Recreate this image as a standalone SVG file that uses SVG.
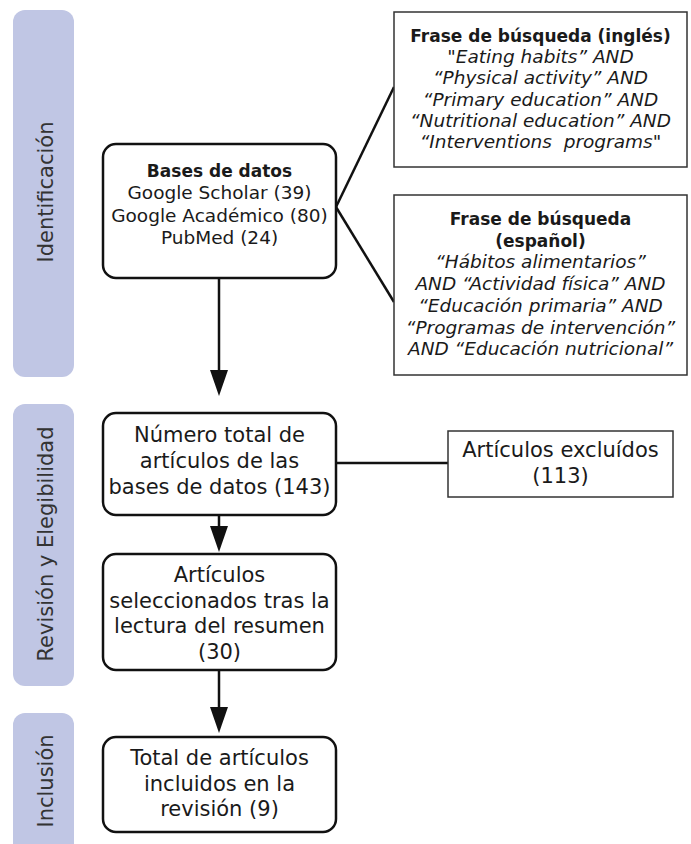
<svg xmlns="http://www.w3.org/2000/svg" width="691" height="844" viewBox="0 0 691 844">
<style>
text { font-family: "DejaVu Sans", "Liberation Sans", sans-serif; fill: #1a1a1a; text-anchor: middle; }
.phase { fill: #c0c6e4; }
.plabel { font-size: 21px; fill: #333; }
.rbox { fill: #fff; stroke: #111; stroke-width: 2.5; }
.sbox { fill: #fff; stroke: #333; stroke-width: 1.5; }
.b17 { font-size: 17px; font-weight: bold; }
.r185 { font-size: 18.5px; }
.i185 { font-size: 18.5px; font-style: italic; }
.r21 { font-size: 21px; }
.conn { stroke: #111; stroke-width: 2.5; fill: none; }
</style>
<defs>
<marker id="ah" markerUnits="userSpaceOnUse" markerWidth="26" markerHeight="18" refX="18" refY="9" orient="auto">
<path d="M0,0 L26,9 L0,18 Z" fill="#111"/>
</marker>
</defs>

<g id="phases">
<rect class="phase" x="13" y="10" width="61" height="367" rx="12"/>
<text class="plabel" transform="translate(53,192) rotate(-90)">Identificación</text>
<rect class="phase" x="13" y="404" width="61" height="282" rx="12"/>
<text class="plabel" transform="translate(53,544) rotate(-90)">Revisión y Elegibilidad</text>
<rect class="phase" x="13" y="713" width="61" height="150" rx="12"/>
<text class="plabel" transform="translate(53,781) rotate(-90)">Inclusión</text>
</g>

<g id="connectors">
<line class="conn" x1="336" y1="207" x2="394" y2="87"/>
<line class="conn" x1="336" y1="207" x2="394" y2="302"/>
<line class="conn" x1="336" y1="463" x2="448" y2="463"/>
<line class="conn" x1="219" y1="278" x2="219" y2="388" marker-end="url(#ah)"/>
<line class="conn" x1="219" y1="515" x2="219" y2="544" marker-end="url(#ah)"/>
<line class="conn" x1="219" y1="670" x2="219" y2="725" marker-end="url(#ah)"/>
</g>

<g id="bases">
<rect class="rbox" x="103" y="144" width="233" height="134" rx="13"/>
<text class="b17" x="219.5" y="177">Bases de datos</text>
<text class="r185" x="219.5" y="199">Google Scholar (39)</text>
<text class="r185" x="219.5" y="222">Google Académico (80)</text>
<text class="r185" x="219.5" y="244">PubMed (24)</text>
</g>

<g id="frase-ingles">
<rect class="sbox" x="394" y="12" width="293" height="155"/>
<text class="b17" x="540.5" y="42">Frase de búsqueda (inglés)</text>
<text class="i185" x="540.5" y="63">"Eating habits” AND</text>
<text class="i185" x="540.5" y="84">“Physical activity” AND</text>
<text class="i185" x="540.5" y="106">“Primary education” AND</text>
<text class="i185" x="540.5" y="127">“Nutritional education” AND</text>
<text class="i185" x="540.5" y="148" xml:space="preserve">“Interventions  programs"</text>
</g>

<g id="frase-espanol">
<rect class="sbox" x="394" y="195" width="293" height="180"/>
<text class="b17" x="540.5" y="225">Frase de búsqueda</text>
<text class="b17" x="540.5" y="247">(español)</text>
<text class="i185" x="540.5" y="268">“Hábitos alimentarios”</text>
<text class="i185" x="540.5" y="290">AND “Actividad física” AND</text>
<text class="i185" x="540.5" y="312">“Educación primaria” AND</text>
<text class="i185" x="540.5" y="334">“Programas de intervención”</text>
<text class="i185" x="540.5" y="355">AND “Educación nutricional”</text>
</g>

<g id="numero-total">
<rect class="rbox" x="103" y="413" width="233" height="102" rx="13"/>
<text class="r21" x="219.5" y="442">Número total de</text>
<text class="r21" x="219.5" y="468">artículos de las</text>
<text class="r21" x="219.5" y="494">bases de datos (143)</text>
</g>

<g id="excluidos">
<rect class="sbox" x="448" y="431" width="225" height="66"/>
<text class="r21" x="560.5" y="457">Artículos excluídos</text>
<text class="r21" x="560.5" y="483">(113)</text>
</g>

<g id="seleccionados">
<rect class="rbox" x="103" y="554" width="233" height="116" rx="13"/>
<text class="r21" x="219.5" y="582">Artículos</text>
<text class="r21" x="219.5" y="608">seleccionados tras la</text>
<text class="r21" x="219.5" y="633">lectura del resumen</text>
<text class="r21" x="219.5" y="659">(30)</text>
</g>

<g id="incluidos">
<rect class="rbox" x="103" y="737" width="233" height="95" rx="13"/>
<text class="r21" x="219.5" y="765">Total de artículos</text>
<text class="r21" x="219.5" y="791">incluidos en la</text>
<text class="r21" x="219.5" y="816">revisión (9)</text>
</g>
</svg>
